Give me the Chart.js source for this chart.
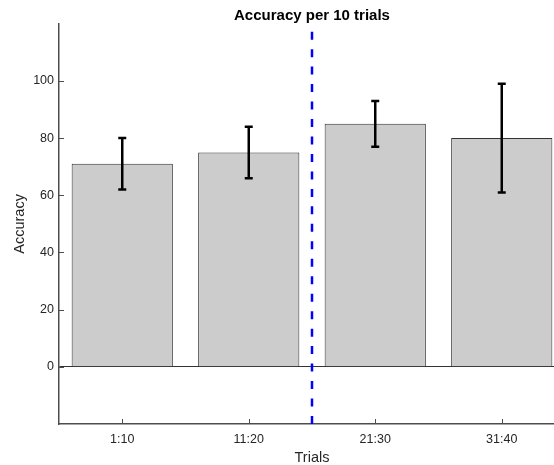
<!DOCTYPE html>
<html>
<head>
<meta charset="utf-8">
<title>Accuracy per 10 trials</title>
<script src="https://cdn.jsdelivr.net/npm/chart.js@4.4.1/dist/chart.umd.min.js"></script>
<style>
    html, body { margin: 0; padding: 0; overflow: hidden; background: #fff; }
    #wrap { width: 566px; height: 465px; }
</style>
</head>
<body>
<div id="wrap"><canvas id="accChart" width="566" height="465"></canvas></div>
<script>
// Données
const categories = ['1:10', '11:20', '21:30', '31:40'];
const accuracy = [71, 75, 85, 80];
const errors = [9, 9, 8, 19];
const yTicks = [0, 20, 40, 60, 80, 100];
const yRange = [-20, 120];
const splitAt = 2.5;

const axisColor = '#4d4d4d';
const textColor = '#262626';
const fontFamily = "'Liberation Sans', Arial, sans-serif";

// Barres d'erreur + petites graduations vers l'intérieur (style MATLAB)
const matlabExtras = {
    id: 'matlabExtras',
    afterDatasetsDraw(chart) {
        const {ctx, chartArea, scales: {x, y}} = chart;
        ctx.save();

        // graduations
        ctx.strokeStyle = axisColor;
        ctx.lineWidth = 1;
        ctx.beginPath();
        y.ticks.forEach(t => {
            const py = Math.round(y.getPixelForValue(t.value)) + 0.5;
            ctx.moveTo(chartArea.left, py);
            ctx.lineTo(chartArea.left + 5, py);
        });
        x.ticks.forEach(t => {
            const px = Math.round(x.getPixelForValue(t.value)) + 0.5;
            ctx.moveTo(px, chartArea.bottom);
            ctx.lineTo(px, chartArea.bottom - 5);
        });
        ctx.stroke();

        // barres d'erreur
        ctx.strokeStyle = '#000';
        ctx.lineWidth = 2.5;
        ctx.lineCap = 'butt';
        accuracy.forEach((v, i) => {
            const px = x.getPixelForValue(i + 1);
            const top = y.getPixelForValue(v + errors[i]);
            const bot = y.getPixelForValue(v - errors[i]);
            ctx.beginPath();
            ctx.moveTo(px, top);
            ctx.lineTo(px, bot);
            ctx.moveTo(px - 4, top);
            ctx.lineTo(px + 4, top);
            ctx.moveTo(px - 4, bot);
            ctx.lineTo(px + 4, bot);
            ctx.stroke();
        });
        ctx.restore();
    }
};

new Chart(document.getElementById('accChart'), {
    data: {
        datasets: [{
            type: 'bar',
            label: 'Accuracy',
            data: accuracy.map((v, i) => ({x: i + 1, y: v})),
            backgroundColor: '#cccccc',
            borderColor: '#333333',
            borderWidth: 1,
            borderSkipped: 'start',
            barPercentage: 0.8,
            categoryPercentage: 1.0,
            order: 2
        }, {
            type: 'line',
            label: 'split',
            data: [{x: splitAt, y: yRange[0]}, {x: splitAt, y: yRange[1]}],
            borderColor: '#0000ff',
            borderWidth: 2.5,
            borderDash: [8, 9.47],
            borderDashOffset: 0,
            pointRadius: 0,
            fill: false,
            order: 1
        }]
    },
    options: {
        responsive: false,
        animation: false,
        events: [],
        layout: {
            padding: {left: 0, right: 1, top: 0, bottom: 0}
        },
        plugins: {
            legend: {display: false},
            tooltip: {enabled: false},
            title: {
                display: true,
                text: 'Accuracy per 10 trials',
                color: '#000',
                fullSize: false,
                font: {family: fontFamily, size: 15, weight: 'bold', lineHeight: 1.05},
                padding: {top: 8, bottom: 0}
            }
        },
        scales: {
            x: {
                type: 'linear',
                min: 0.5,
                max: 4.5,
                offset: false,
                afterBuildTicks(scale) {
                    scale.ticks = categories.map((c, i) => ({value: i + 1}));
                },
                afterFit(scale) {
                    scale.height = 41;
                },
                ticks: {
                    color: textColor,
                    font: {family: fontFamily, size: 12.5},
                    padding: 8,
                    maxRotation: 0,
                    callback: function(value) {
                        return categories[value - 1];
                    }
                },
                grid: {display: false, drawTicks: false},
                border: {display: true, color: axisColor, width: 1.5},
                title: {
                    display: true,
                    text: 'Trials',
                    color: textColor,
                    font: {family: fontFamily, size: 14.5, lineHeight: 1},
                    padding: {top: 0, bottom: 0}
                }
            },
            y: {
                type: 'linear',
                min: yRange[0],
                max: yRange[1],
                afterBuildTicks(scale) {
                    scale.ticks = yTicks.map(v => ({value: v}));
                },
                afterFit(scale) {
                    scale.width = 59;
                },
                ticks: {
                    color: textColor,
                    font: {family: fontFamily, size: 12.5},
                    padding: 5
                },
                grid: {
                    drawTicks: false,
                    color: function(context) {
                        return context.tick && context.tick.value === 0 ? '#333333' : 'rgba(0,0,0,0)';
                    },
                    lineWidth: 1
                },
                border: {display: true, color: axisColor, width: 1.5},
                title: {
                    display: true,
                    text: 'Accuracy',
                    color: textColor,
                    font: {family: fontFamily, size: 14.5, lineHeight: 1.1},
                    padding: {top: 12.5, bottom: 0}
                }
            }
        }
    },
    plugins: [matlabExtras]
});
</script>
</body>
</html>
